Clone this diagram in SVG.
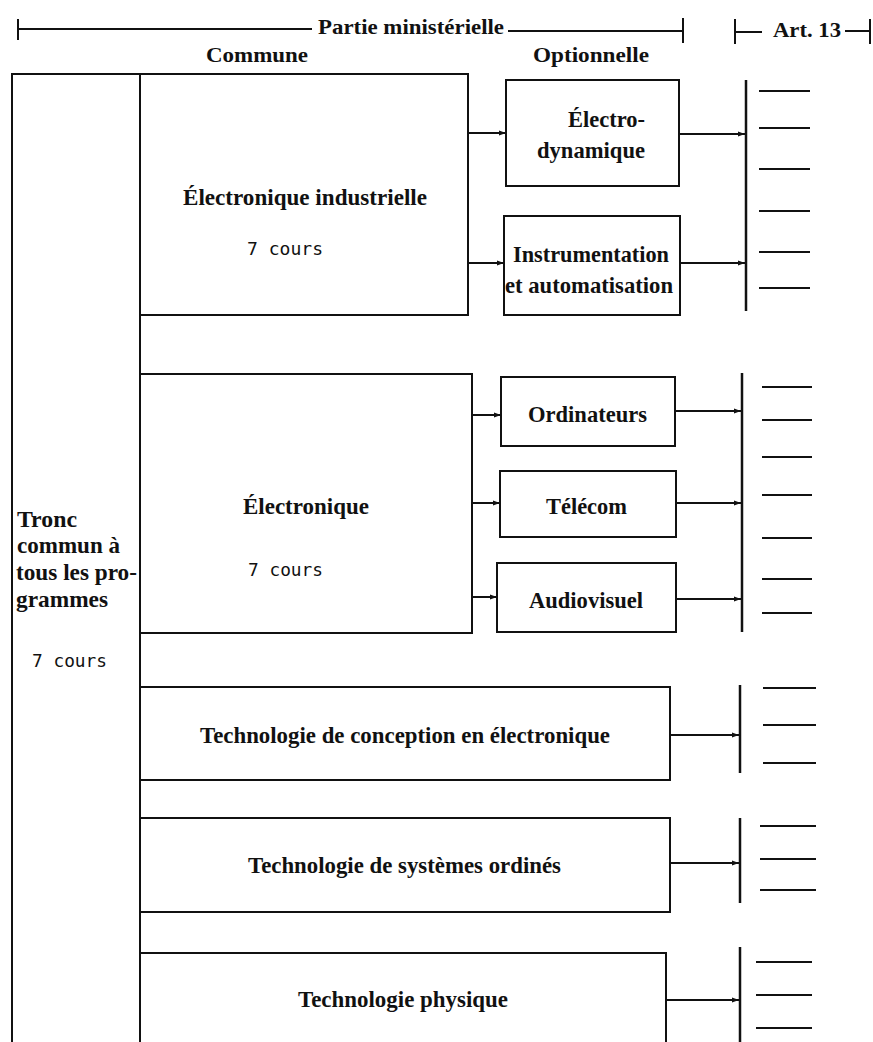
<svg xmlns="http://www.w3.org/2000/svg" width="873" height="1042" viewBox="0 0 873 1042">
<style>
.ln{stroke:#111;stroke-width:2;fill:none}
.bx{stroke:#111;stroke-width:2;fill:#fff}
.bar{stroke:#111;stroke-width:2.5;fill:none}
.t{font-family:"Liberation Serif","Times New Roman",serif;font-weight:bold;font-size:23px;fill:#111}
.h{font-family:"Liberation Serif","Times New Roman",serif;font-weight:bold;font-size:22px;fill:#111}
.m{font-family:"DejaVu Sans Mono","Liberation Mono",monospace;font-size:18px;fill:#111}
</style>
<defs>
<marker id="ah" markerWidth="8" markerHeight="6" refX="7" refY="3" orient="auto" markerUnits="userSpaceOnUse">
<path d="M0,0.5 L7,3 L0,5.5 Z" fill="#111"/>
</marker>
</defs>
<rect width="873" height="1042" fill="#fff"/>

<g id="header">
<path class="ln" d="M18,29 H312 M508,31 H683 M18,19 V40 M683,18 V43"/>
<text class="h" x="318" y="34" textLength="186" lengthAdjust="spacingAndGlyphs">Partie ministérielle</text>
<path class="ln" d="M735,32 H762 M845,31 H869 M735,19 V44 M870,19 V44"/>
<text class="h" x="773" y="37" font-size="24" textLength="68" lengthAdjust="spacingAndGlyphs">Art. 13</text>
<text class="h" x="206" y="62" textLength="102" lengthAdjust="spacingAndGlyphs">Commune</text>
<text class="h" x="533" y="62" textLength="116" lengthAdjust="spacingAndGlyphs">Optionnelle</text>
</g>

<g id="tronc">
<path class="ln" d="M12,1045 V74 H140 V1045"/>
<text class="t" x="17" y="527" textLength="60" lengthAdjust="spacingAndGlyphs">Tronc</text>
<text class="t" x="17" y="553" textLength="103" lengthAdjust="spacingAndGlyphs">commun à</text>
<text class="t" x="16" y="580" textLength="121" lengthAdjust="spacingAndGlyphs">tous les pro-</text>
<text class="t" x="16" y="607" textLength="92" lengthAdjust="spacingAndGlyphs">grammes</text>
<text class="m" x="32" y="667" textLength="75" lengthAdjust="spacingAndGlyphs">7 cours</text>
</g>

<g id="elec-ind">
<rect class="bx" x="140" y="74" width="328" height="241"/>
<text class="t" x="183" y="205" textLength="244" lengthAdjust="spacingAndGlyphs">Électronique industrielle</text>
<text class="m" x="247" y="255" textLength="76" lengthAdjust="spacingAndGlyphs">7 cours</text>
</g>

<g id="electro-dyn">
<rect class="bx" x="506" y="80" width="173" height="106"/>
<text class="t" x="568" y="127" textLength="77" lengthAdjust="spacingAndGlyphs">Électro-</text>
<text class="t" x="537" y="158" textLength="108" lengthAdjust="spacingAndGlyphs">dynamique</text>
</g>

<g id="instrum">
<rect class="bx" x="504" y="216" width="176" height="99"/>
<text class="t" x="513" y="262" textLength="156" lengthAdjust="spacingAndGlyphs">Instrumentation</text>
<text class="t" x="505" y="293" textLength="168" lengthAdjust="spacingAndGlyphs">et automatisation</text>
</g>

<g id="electronique">
<rect class="bx" x="140" y="374" width="332" height="259"/>
<text class="t" x="243" y="514" textLength="126" lengthAdjust="spacingAndGlyphs">Électronique</text>
<text class="m" x="248" y="576" textLength="75" lengthAdjust="spacingAndGlyphs">7 cours</text>
</g>

<g id="ordinateurs">
<rect class="bx" x="501" y="377" width="174" height="69"/>
<text class="t" x="528" y="422" textLength="119" lengthAdjust="spacingAndGlyphs">Ordinateurs</text>
</g>

<g id="telecom">
<rect class="bx" x="500" y="471" width="176" height="66"/>
<text class="t" x="546" y="514" textLength="81" lengthAdjust="spacingAndGlyphs">Télécom</text>
</g>

<g id="audiovisuel">
<rect class="bx" x="497" y="563" width="179" height="69"/>
<text class="t" x="529" y="608" textLength="114" lengthAdjust="spacingAndGlyphs">Audiovisuel</text>
</g>

<g id="tech-conception">
<rect class="bx" x="140" y="687" width="530" height="93"/>
<text class="t" x="200" y="743" textLength="410" lengthAdjust="spacingAndGlyphs">Technologie de conception en électronique</text>
</g>

<g id="tech-systemes">
<rect class="bx" x="140" y="818" width="530" height="94"/>
<text class="t" x="248" y="873" textLength="313" lengthAdjust="spacingAndGlyphs">Technologie de systèmes ordinés</text>
</g>

<g id="tech-physique">
<path class="ln" d="M140,953 H666 V1045"/>
<text class="t" x="298" y="1007" textLength="210" lengthAdjust="spacingAndGlyphs">Technologie physique</text>
</g>

<g id="art13">
<path class="bar" d="M746,80 V311 M742,373 V632 M740,685 V773 M740,818 V903 M740,947 V1045"/>
<path class="ln" d="M759,91 H810 M759,128 H810 M759,169 H810 M759,211 H810 M759,252 H810 M759,288 H810"/>
<path class="ln" d="M762,387 H812 M762,420 H812 M762,457 H812 M762,495 H812 M762,538 H812 M762,579 H812 M762,613 H812"/>
<path class="ln" d="M763,688 H816 M763,725 H816 M763,763 H816"/>
<path class="ln" d="M760,826 H816 M760,859 H816 M760,890 H816"/>
<path class="ln" d="M756,962 H812 M756,995 H812 M756,1028 H812"/>
</g>

<g id="connectors">
<g class="ln" marker-end="url(#ah)">
<line x1="468" y1="133" x2="506" y2="133"/>
<line x1="468" y1="263" x2="504" y2="263"/>
<line x1="679" y1="134" x2="745" y2="134"/>
<line x1="680" y1="263" x2="745" y2="263"/>
<line x1="472" y1="415" x2="501" y2="415"/>
<line x1="472" y1="503" x2="500" y2="503"/>
<line x1="472" y1="597" x2="497" y2="597"/>
<line x1="675" y1="411" x2="741" y2="411"/>
<line x1="676" y1="503" x2="741" y2="503"/>
<line x1="676" y1="599" x2="741" y2="599"/>
<line x1="670" y1="735" x2="739" y2="735"/>
<line x1="670" y1="863" x2="739" y2="863"/>
<line x1="666" y1="1000" x2="739" y2="1000"/>
</g>
</g>
</svg>
